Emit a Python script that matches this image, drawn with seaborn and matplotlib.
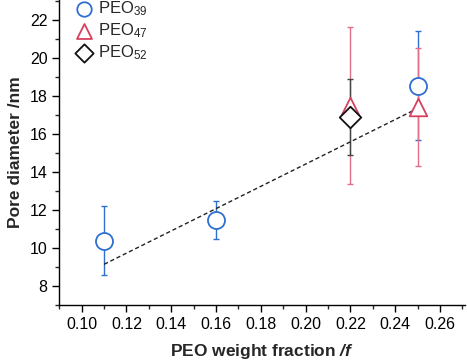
import numpy as np
import pandas as pd
import seaborn as sns
import matplotlib.pyplot as plt
from matplotlib.ticker import MultipleLocator

# data
peo39_x = [0.11, 0.16, 0.25]
peo39_y = [10.4, 11.5, 18.55]
peo39_err = [1.8, 1.0, 2.85]

peo47_x = [0.22, 0.25]
peo47_y = [17.5, 17.4]
peo47_err = [4.15, 3.1]

peo52_x = [0.22]
peo52_y = [16.9]
peo52_err = [2.0]

fit_x = [0.11, 0.25]
fit_y = [9.15, 17.35]

sns.set_style("ticks")
plt.rcParams["font.family"] = ["Liberation Sans", "DejaVu Sans"]
plt.rcParams["mathtext.fontset"] = "custom"
plt.rcParams["mathtext.rm"] = "Liberation Sans"
plt.rcParams["mathtext.it"] = "Liberation Sans:italic"
plt.rcParams["mathtext.bf"] = "Liberation Sans:bold"
plt.rcParams["mathtext.bfit"] = "Liberation Sans:bold:italic"

blue = "#2f6fd0"
red = "#d8405f"
red_err = "#e0708a"
black = "#111111"

fig, ax = plt.subplots(figsize=(4.67, 3.62), dpi=100)

# error bars
ax.errorbar(peo39_x, peo39_y, yerr=peo39_err, fmt="none", ecolor=blue,
            elinewidth=1, capsize=2.5, capthick=1, zorder=2)
ax.errorbar(peo47_x, peo47_y, yerr=peo47_err, fmt="none", ecolor=red_err,
            elinewidth=1, capsize=2.5, capthick=1, zorder=2)
ax.errorbar(peo52_x, peo52_y, yerr=peo52_err, fmt="none", ecolor="#444444",
            elinewidth=1, capsize=2.5, capthick=1, zorder=2)

# fit line
fit = pd.DataFrame({"x": fit_x, "y": fit_y})
sns.lineplot(data=fit, x="x", y="y", color="#222222", linestyle=(0, (3, 2)),
             linewidth=1, ax=ax, zorder=3)

df39 = pd.DataFrame({"x": peo39_x, "y": peo39_y})
df47 = pd.DataFrame({"x": peo47_x, "y": peo47_y})
df52 = pd.DataFrame({"x": peo52_x, "y": peo52_y})

sns.scatterplot(data=df39, x="x", y="y", marker="o", s=150, facecolor="white",
                edgecolor=blue, linewidth=1.3, ax=ax, zorder=4, label="PEO$_{39}$")
sns.scatterplot(data=df47, x="x", y="y", marker="^", s=160, facecolor="white",
                edgecolor=red, linewidth=1.3, ax=ax, zorder=4, label="PEO$_{47}$")
sns.scatterplot(data=df52, x="x", y="y", marker="D", s=120, facecolor="white",
                edgecolor=black, linewidth=1.3, ax=ax, zorder=5, label="PEO$_{52}$")

ax.set_xlim(0.09, 0.271)
ax.set_ylim(7, 23.05)
ax.xaxis.set_major_locator(MultipleLocator(0.02))
ax.xaxis.set_minor_locator(MultipleLocator(0.01))
ax.yaxis.set_major_locator(MultipleLocator(2))
ax.yaxis.set_minor_locator(MultipleLocator(1))
ax.set_xticks(np.arange(0.10, 0.261, 0.02))
ax.xaxis.set_major_formatter(plt.FuncFormatter(lambda v, p: f"{v:.2f}"))

ax.tick_params(axis="both", which="major", labelsize=11.5, length=5, width=1, direction="out", colors="black")
ax.tick_params(axis="both", which="minor", length=3, width=1, direction="out")
for s in ["top", "right"]:
    ax.spines[s].set_visible(False)
for s in ["left", "bottom"]:
    ax.spines[s].set_linewidth(1)
    ax.spines[s].set_color("black")

ax.set_xlabel(r"PEO weight fraction $\mathbfit{/f}$", fontsize=12.5, fontweight="bold", labelpad=7)
ax.set_ylabel("Pore diameter /nm", fontsize=12.5, fontweight="bold", labelpad=5)

leg = ax.legend(loc="upper left", bbox_to_anchor=(0.025, 1.025), frameon=False, fontsize=12,
                handletextpad=0.3, borderaxespad=0, labelspacing=0.2, handlelength=1.0,
                markerscale=0.85)

fig.subplots_adjust(left=0.127, right=0.995, top=1.0, bottom=0.157)
fig.savefig("out.png", dpi=100)
